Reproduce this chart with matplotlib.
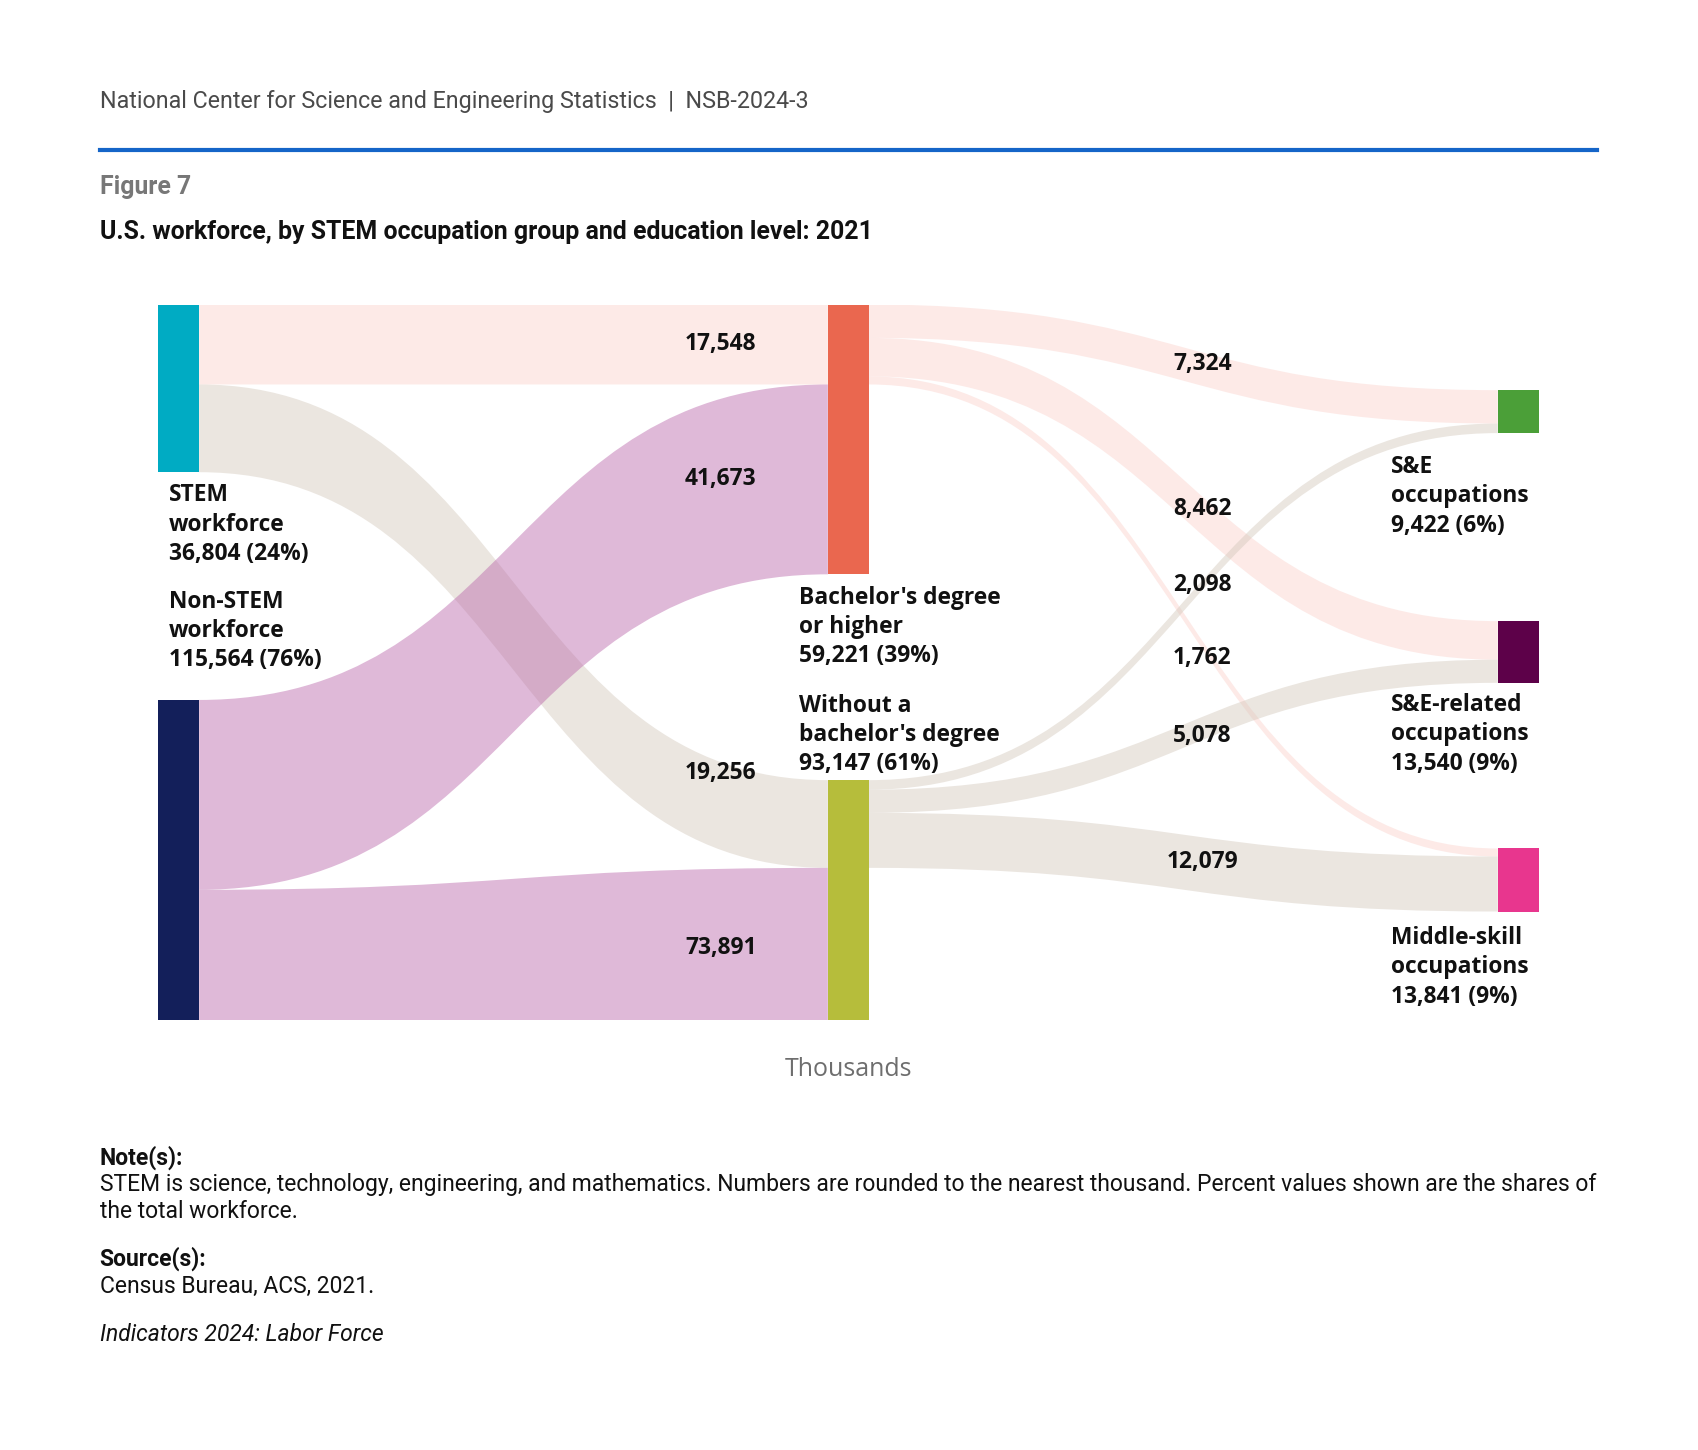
import matplotlib.pyplot as plt
from matplotlib.path import Path
from matplotlib.patches import PathPatch, Rectangle
from matplotlib.lines import Line2D

# reference was measured on a scaled copy of the 1699x1450 picture
DW, DH = 1570, 1338

# ---- data (thousands of workers) ----
node_labels = ["STEM\nworkforce", "Non-STEM\nworkforce",
               "Bachelor's degree\nor higher", "Without a\nbachelor's degree",
               "S&E\noccupations", "S&E-related\noccupations",
               "Middle-skill\noccupations"]
node_values = [36804, 115564, 59221, 93147, 9422, 13540, 13841]
node_shares = [24, 76, 39, 61, 6, 9, 9]
node_column = [0, 0, 1, 1, 2, 2, 2]

link_source = [0, 0, 1, 1, 2, 2, 2, 3, 3, 3]
link_target = [2, 3, 2, 3, 4, 5, 6, 4, 5, 6]
link_values = [17548, 19256, 41673, 73891, 7324, 8462, 1762, 2098, 5078, 12079]

# ---- layout ----
node_colors = ['#00abc3', '#131f5a', '#ea674f', '#b6bd3b',
               '#4b9f38', '#5d0149', '#e8368e']
node_top = [0, 86800, 0, 104400, 18800, 69500, 119400]
# label placed below (+) or above (-) the node, gap in px to first/last baseline
label_side = [1, -1, 1, -1, 1, 1, 1]
label_gap = [27, 31, 27, 9, 37, 26, 30]
label_dx = [10, 10, -27, -27, -99, -99, -99]

pink, beige, purple = '#fbd1cb', '#d3c8bb', '#b864a9'
link_colors = [pink, beige, purple, purple, pink, pink, pink,
               beige, beige, beige]
link_alpha = 0.45
# nudges (px) for the value labels so they do not collide
label_nudge = [0, -47, 0, 4, 0, 9, 38, -20, 0, 0]

YMAX = 157000
PX = YMAX / 660.0          # data units per px vertically
NW = 38 / 619.0            # node width in column units
LINE = 27                  # px between label lines

fig = plt.figure(figsize=(16.99, 14.5), dpi=100)
ax = fig.add_axes([146 / DW, 1 - 941 / DH, (1422 - 146) / DW, 660 / DH])
ax.set_xlim(0, 2 + NW)
ax.set_ylim(YMAX, 0)
ax.axis('off')

chart_font = 'Open Sans'
note_font = 'Roboto'
LAB = 16.4

# links
out_off = list(node_top)
in_off = list(node_top)
link_geo = []
for s, t, v, c in zip(link_source, link_target, link_values, link_colors):
    s0 = out_off[s]; out_off[s] += v
    t0 = in_off[t]; in_off[t] += v
    x0 = node_column[s] + NW
    x1 = node_column[t]
    xm = (x0 + x1) / 2
    verts = [(x0, s0), (xm, s0), (xm, t0), (x1, t0),
             (x1, t0 + v), (xm, t0 + v), (xm, s0 + v), (x0, s0 + v), (x0, s0)]
    codes = [Path.MOVETO, Path.CURVE4, Path.CURVE4, Path.CURVE4,
             Path.LINETO, Path.CURVE4, Path.CURVE4, Path.CURVE4, Path.CLOSEPOLY]
    ax.add_patch(PathPatch(Path(verts, codes), facecolor=c, edgecolor='none',
                           alpha=link_alpha, zorder=1))
    link_geo.append((s0, t0, v))

# nodes
for i, v in enumerate(node_values):
    ax.add_patch(Rectangle((node_column[i], node_top[i]), NW, v,
                           facecolor=node_colors[i], edgecolor='none', zorder=2))

# node labels
for i, lab in enumerate(node_labels):
    lines = lab.split('\n') + ['{:,} ({}%)'.format(node_values[i], node_shares[i])]
    x = node_column[i] + label_dx[i] / 619.0
    if label_side[i] > 0:
        y0 = node_top[i] + node_values[i] + label_gap[i] * PX
    else:
        y0 = node_top[i] - label_gap[i] * PX - (len(lines) - 1) * LINE * PX
    for j, ln in enumerate(lines):
        ax.text(x, y0 + j * LINE * PX, ln, ha='left', va='baseline',
                fontsize=LAB, fontweight='bold', family=chart_font,
                color='#111111', clip_on=False, zorder=5)

# link value labels
for k, (s, t, v) in enumerate(zip(link_source, link_target, link_values)):
    s0, t0, _ = link_geo[k]
    if node_column[s] == 0:
        x = 1 - 99 / 619.0
        top, bot = t0, min(t0 + v, YMAX)
        y = (top + bot) / 2
    else:
        x = 1 + NW + 308 / 619.0
        y = ((s0 + v / 2) + (t0 + v / 2)) / 2
    y += label_nudge[k] * PX
    ax.text(x, y, '{:,}'.format(v), ha='center', va='center', fontsize=LAB,
            fontweight='bold', family=chart_font, color='#111111',
            clip_on=False, zorder=5)

# ---- header / footer ----
def ftext(x, y, s, **kw):
    fig.text(x / DW, 1 - (y + 2) / DH, s, va='center', ha='left', **kw)

ftext(92, 92, 'National Center for Science and Engineering Statistics  |  NSB-2024-3',
      fontsize=16.75, family=note_font, color='#4a4a4a')
fig.add_artist(Line2D([92 / DW, 1476 / DW], [1 - 138 / DH, 1 - 138 / DH],
                      color='#1565c8', lw=3))
ftext(92, 171, 'Figure 7', fontsize=17.8, family=note_font, fontweight='bold',
      color='#777777')
ftext(92, 212, 'U.S. workforce, by STEM occupation group and education level: 2021',
      fontsize=17.95, family=note_font, fontweight='bold', color='#111111')

fig.text(784 / DW, 1 - 987 / DH, 'Thousands', ha='center', va='center',
         fontsize=18, family=chart_font, color='#6e6e6e')

NOTE = 16.5
ftext(92, 1066, 'Note(s):', fontsize=NOTE, family=note_font, fontweight='bold',
      color='#111111')
ftext(92, 1091, 'STEM is science, technology, engineering, and mathematics. Numbers are '
      'rounded to the nearest thousand. Percent values shown are the shares of',
      fontsize=NOTE, family=note_font, color='#111111')
ftext(92, 1116, 'the total workforce.', fontsize=NOTE, family=note_font,
      color='#111111')
ftext(92, 1160, 'Source(s):', fontsize=NOTE, family=note_font, fontweight='bold',
      color='#111111')
ftext(92, 1185, 'Census Bureau, ACS, 2021.', fontsize=NOTE, family=note_font,
      color='#111111')
ftext(92, 1229, 'Indicators 2024: Labor Force', fontsize=NOTE, family=note_font,
      style='italic', color='#111111')

fig.savefig('out.png', dpi=100, facecolor='white')
